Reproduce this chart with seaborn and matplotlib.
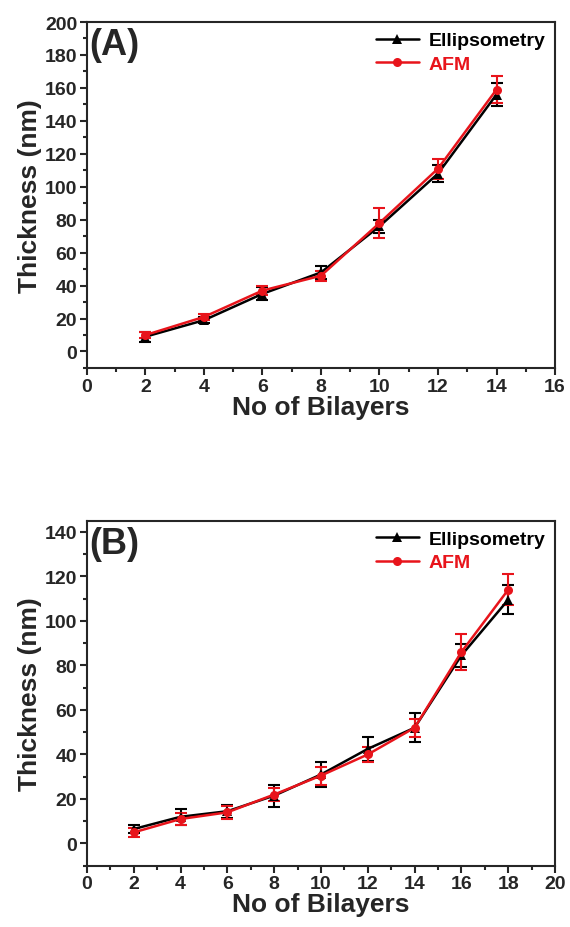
import numpy as np
import pandas as pd
import seaborn as sns
import matplotlib
matplotlib.use("Agg")
from matplotlib import pyplot as plt
from matplotlib.ticker import MultipleLocator

# panel A
bilayers_a = [2, 4, 6, 8, 10, 12, 14]
ellip_a = [9, 19, 35, 48, 76, 108, 156]
ellip_a_err = [3, 2, 4, 4, 4, 5, 7]
afm_a = [10, 21, 37, 46, 78, 111, 159]
afm_a_err = [2, 2, 3, 3, 9, 6, 8]

# panel B
bilayers_b = [2, 4, 6, 8, 10, 12, 14, 16, 18]
ellip_b = [6.5, 12, 14.5, 21.5, 31, 42.5, 52, 84.5, 109.5]
ellip_b_err = [2, 3.5, 3, 5, 5.5, 5.5, 6.5, 5, 6.5]
afm_b = [5, 11, 14, 22, 30.5, 40, 52, 86, 114]
afm_b_err = [2, 2.5, 3, 3, 4, 3.5, 4, 8, 7]

methods = ["Ellipsometry", "AFM"]
colors = {"Ellipsometry": "black", "AFM": "#e8141b"}
markers = {"Ellipsometry": "^", "AFM": "o"}

sns.set_style("ticks")
plt.rcParams["font.family"] = ["Liberation Sans", "DejaVu Sans"]
plt.rcParams["font.weight"] = "bold"


def make_df(x, e, a):
    return pd.DataFrame({
        "bilayers": list(x) + list(x),
        "thickness": list(e) + list(a),
        "method": ["Ellipsometry"] * len(x) + ["AFM"] * len(x),
    })


def draw_panel(_ax, x, e, e_err, a, a_err, xmax, ylim, ymajor, tag):
    _df = make_df(x, e, a)
    for _m, _y, _err in [("Ellipsometry", e, e_err), ("AFM", a, a_err)]:
        _ax.errorbar(x, _y, yerr=_err, fmt="none", ecolor=colors[_m],
                     elinewidth=1.5, capsize=4, capthick=1.5, zorder=2)
    sns.lineplot(data=_df, x="bilayers", y="thickness", hue="method",
                 style="method", markers=markers, dashes=False,
                 palette=colors, hue_order=methods, style_order=methods,
                 markersize=6.5, markeredgewidth=0, linewidth=1.8,
                 ax=_ax, zorder=3)
    _ax.set_xlim(0, xmax)
    _ax.set_ylim(*ylim)
    _ax.xaxis.set_major_locator(MultipleLocator(2))
    _ax.xaxis.set_minor_locator(MultipleLocator(1))
    _ax.yaxis.set_major_locator(MultipleLocator(ymajor))
    _ax.yaxis.set_minor_locator(MultipleLocator(ymajor / 2))
    _ax.tick_params(which="major", direction="out", length=5, width=1.5,
                    labelsize=14, pad=2)
    _ax.tick_params(which="minor", direction="out", length=3, width=1.5)
    for _s in _ax.spines.values():
        _s.set_linewidth(1.5)
        _s.set_visible(True)
    for _lbl in _ax.get_xticklabels() + _ax.get_yticklabels():
        _lbl.set_fontweight("bold")
    _ax.set_xlabel("No of Bilayers", fontsize=19, fontweight="bold", labelpad=0)
    _ax.set_ylabel("Thickness (nm)", fontsize=19, fontweight="bold", labelpad=2)
    _ax.text(0.005, 0.985, tag, transform=_ax.transAxes, ha="left", va="top",
             fontsize=26, fontweight="bold")
    _h, _l = _ax.get_legend_handles_labels()
    _leg = _ax.legend(_h, _l, loc="upper right", frameon=False, fontsize=14,
                      handlelength=2.2, handletextpad=0.5, labelspacing=0.3,
                      borderaxespad=0.3, borderpad=0.2)
    for _t in _leg.get_texts():
        _t.set_color(colors[_t.get_text()])
        _t.set_fontweight("bold")


fig = plt.figure(figsize=(5.7, 9.28), dpi=100)
ax_a = fig.add_axes([0.1526, 0.6024, 0.8211, 0.3728])
ax_b = fig.add_axes([0.1526, 0.066, 0.8211, 0.3718])

draw_panel(ax_a, bilayers_a, ellip_a, ellip_a_err, afm_a, afm_a_err,
           16, (-10, 200), 20, "(A)")
draw_panel(ax_b, bilayers_b, ellip_b, ellip_b_err, afm_b, afm_b_err,
           20, (-10, 145), 20, "(B)")

fig.savefig("out.png", dpi=100)
